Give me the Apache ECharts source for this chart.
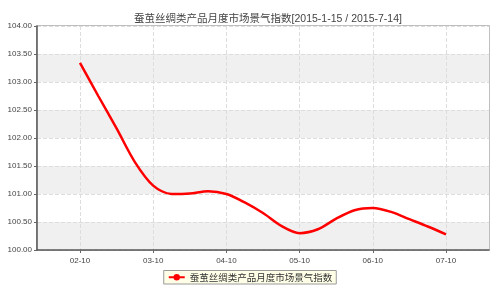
<!DOCTYPE html>
<html>
<head>
<meta charset="utf-8">
<script src="https://cdn.jsdelivr.net/npm/echarts@6/dist/echarts.min.js"></script>
<style>html,body{margin:0;padding:0;background:#fff}#c{width:500px;height:291px}</style>
</head>
<body>
<div id="c"></div>
<script>
var titleText = '蚕茧丝绸类产品月度市场景气指数[2015-1-15 / 2015-7-14]';
var seriesName = '蚕茧丝绸类产品月度市场景气指数';
var monthLabels = ['02-10', '03-10', '04-10', '05-10', '06-10', '07-10'];
var monthPos = [0, 1, 2, 3, 4, 5];
// positions in months from 02-10 (quarter-month steps)
var pointPos = [0, 0.25, 0.5, 0.75, 1, 1.25, 1.5, 1.75, 2, 2.25, 2.5, 2.75, 3, 3.25, 3.5, 3.75, 4, 4.25, 4.5, 4.75, 5];
var indexValues = [103.34, 102.75, 102.17, 101.57, 101.15, 101.0, 101.01, 101.05, 101.0, 100.85, 100.66, 100.43, 100.30, 100.37, 100.56, 100.71, 100.75, 100.68, 100.55, 100.42, 100.28];
var yTicks = [100, 100.5, 101, 101.5, 102, 102.5, 103, 103.5, 104];

var data = pointPos.map(function (p, i) { return [p, indexValues[i]]; });
var chart = echarts.init(document.getElementById('c'), null, {renderer: 'canvas'});
chart.setOption({
  animation: false,
  backgroundColor: '#fff',
  title: {
    text: titleText, left: 263, top: 9, textAlign: 'center',
    textStyle: {fontSize: 10.5, fontWeight: 'normal', color: '#444', fontFamily: 'Arial, "Noto Sans CJK SC", sans-serif'}
  },
  legend: {
    data: [seriesName], left: 'center', bottom: 7, itemWidth: 16, itemHeight: 8,
    backgroundColor: '#ffffe8', borderColor: '#999', borderWidth: 1, padding: [2, 4], itemGap: 4,
    textStyle: {fontSize: 9.5, color: '#333', fontFamily: '"Noto Sans CJK SC", sans-serif'}
  },
  grid: {left: 37, right: 11, top: 26, bottom: 41, show: true, borderColor: '#aaa', borderWidth: 1.5},
  xAxis: {
    type: 'value', min: -0.587, max: 5.587,
    axisLine: {show: true, onZero: false, lineStyle: {color: '#555', width: 1.5}},
    axisTick: {show: true, customValues: monthPos, length: 3, lineStyle: {color: '#666'}},
    axisLabel: {customValues: monthPos, fontSize: 8, color: '#444', margin: 7,
      formatter: function (v) { return monthLabels[Math.round(v)]; }},
    splitLine: {show: true, lineStyle: {color: '#ddd', type: 'dashed'}}
  },
  yAxis: {
    type: 'value', min: yTicks[0], max: yTicks[yTicks.length - 1], interval: 0.5,
    axisLine: {show: true, onZero: false, lineStyle: {color: '#555', width: 1.5}},
    axisTick: {show: true, length: 3, lineStyle: {color: '#666'}},
    axisLabel: {fontSize: 8, color: '#444', margin: 5, formatter: function (v) { return v.toFixed(2); }},
    splitLine: {show: true, lineStyle: {color: '#ddd', type: 'dashed'}},
    splitArea: {show: true, areaStyle: {color: ['#f0f0f0', '#ffffff']}}
  },
  series: [{
    name: seriesName, type: 'line', data: data, smooth: 0.3,
    showSymbol: false, symbol: 'circle', symbolSize: 7,
    lineStyle: {color: '#ff0000', width: 2.5},
    itemStyle: {color: '#ff0000'}
  }]
});
</script>
</body>
</html>
